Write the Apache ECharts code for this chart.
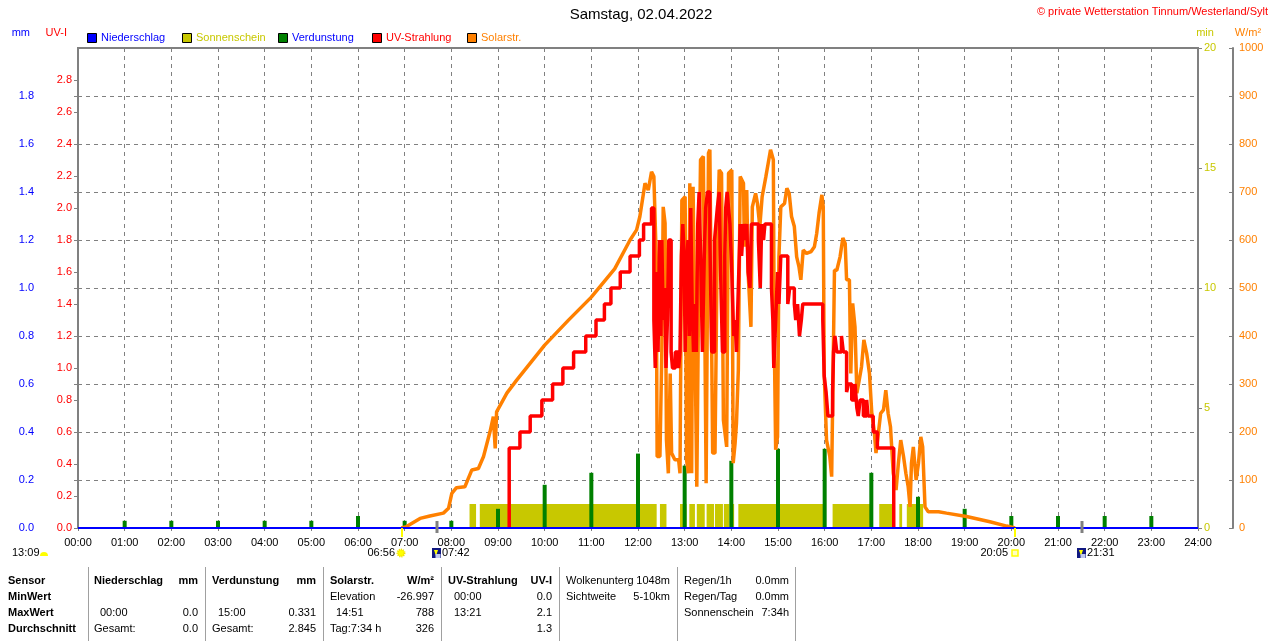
<!DOCTYPE html>
<html>
<head>
<meta charset="utf-8">
<script src="https://cdn.jsdelivr.net/npm/echarts/dist/echarts.min.js"></script>
<style>
  html, body { margin: 0; padding: 0; background: #fff; }
  #chart { width: 1280px; height: 641px; }
</style>
</head>
<body>
<div id="chart"></div>
<script>
const FONT = '"Liberation Sans", Arial, sans-serif';

// Verdunstung (mm) per hour
const evapHours = [1, 2, 3, 4, 5, 6, 7, 8, 9, 10, 11, 12, 13, 14, 15, 16, 17, 18, 19, 20, 21, 22, 23];
const evapValues = [0.03, 0.03, 0.03, 0.03, 0.03, 0.05, 0.03, 0.03, 0.08, 0.18, 0.23, 0.31, 0.26, 0.28, 0.33, 0.33, 0.23, 0.13, 0.08, 0.05, 0.05, 0.05, 0.05];

// Sonnenschein: intervals [start h, end h, minutes]
const sunshine = [
  [8.39, 8.53, 1], [8.61, 12.40, 1], [12.47, 12.61, 1], [12.90, 13.04, 1],
  [13.10, 13.22, 1], [13.26, 13.43, 1], [13.47, 13.63, 1], [13.65, 13.82, 1],
  [13.84, 13.96, 1], [13.99, 14.06, 1], [14.15, 16.00, 1], [16.17, 16.97, 1],
  [17.17, 17.47, 1], [17.60, 17.66, 1], [17.76, 18.11, 1]
];

// Solarstrahlung W/m2 [hour, value]
const solar = [
  [6.93, 0], [7.04, 3], [7.33, 20], [7.54, 25], [7.83, 31], [7.94, 41], [8.01, 72], [8.11, 84],
  [8.29, 86], [8.44, 121], [8.58, 124], [8.69, 149], [8.83, 201], [8.90, 232], [8.94, 166], [8.97, 242],
  [9.19, 281], [9.40, 308], [10.0, 381], [10.5, 432], [11.0, 481], [11.5, 540], [11.83, 600], [11.97, 621],
  [12.04, 649], [12.15, 718], [12.22, 704], [12.29, 742], [12.34, 732], [12.39, 565], [12.41, 149],
  [12.47, 149], [12.51, 364], [12.54, 669], [12.58, 635], [12.61, 183], [12.65, 114], [12.69, 322],
  [12.72, 156], [12.79, 142], [12.87, 142], [12.90, 114], [12.94, 683], [13.01, 690], [13.04, 142],
  [13.08, 114], [13.11, 718], [13.15, 114], [13.18, 711], [13.26, 86], [13.29, 392], [13.34, 767],
  [13.40, 774], [13.46, 93], [13.51, 781], [13.54, 788], [13.60, 156], [13.65, 156], [13.70, 600],
  [13.74, 746], [13.79, 739], [13.83, 225], [13.90, 169], [13.94, 739], [14.01, 746], [14.04, 135],
  [14.08, 176], [14.11, 218], [14.15, 329], [14.19, 732], [14.26, 718], [14.28, 586], [14.33, 704],
  [14.36, 531], [14.42, 419], [14.45, 669], [14.52, 697], [14.56, 676], [14.61, 628], [14.66, 690],
  [14.74, 732], [14.79, 760], [14.84, 788], [14.90, 767], [14.92, 392], [14.95, 163], [14.99, 190],
  [15.02, 565], [15.06, 669], [15.14, 676], [15.19, 708], [15.24, 697], [15.29, 649], [15.35, 628],
  [15.40, 565], [15.45, 544], [15.49, 517], [15.54, 579], [15.61, 572], [15.71, 576], [15.78, 586],
  [15.83, 614], [15.88, 656], [15.94, 694], [15.97, 669], [15.99, 322], [16.04, 183], [16.11, 149],
  [16.15, 107], [16.21, 537], [16.26, 537], [16.33, 565], [16.39, 604], [16.44, 593], [16.47, 517],
  [16.53, 517], [16.56, 322], [16.60, 468], [16.65, 419], [16.69, 281], [16.74, 308], [16.79, 336],
  [16.84, 392], [16.90, 364], [16.96, 322], [17.01, 239], [17.06, 204], [17.10, 156], [17.15, 197],
  [17.20, 239], [17.26, 246], [17.31, 287], [17.36, 239], [17.41, 211], [17.47, 114], [17.53, 79],
  [17.58, 135], [17.63, 183], [17.69, 149], [17.74, 114], [17.79, 86], [17.83, 44], [17.86, 135],
  [17.90, 169], [17.96, 100], [18.01, 135], [18.06, 190], [18.10, 169], [18.15, 44], [18.22, 34],
  [18.44, 34], [18.61, 31], [19.04, 24], [19.54, 13], [19.90, 4], [20.08, 0]
];

// UV-Strahlung UV-I [hour, value] (step)
const uv = [
  [9.24, 0], [9.24, 0.5], [9.47, 0.6], [9.69, 0.7], [9.94, 0.8], [10.17, 0.9], [10.39, 1.0], [10.62, 1.1],
  [10.88, 1.2], [11.10, 1.3], [11.28, 1.4], [11.42, 1.5], [11.62, 1.6], [11.83, 1.7], [12.03, 1.8],
  [12.12, 1.9], [12.29, 2.0], [12.34, 1.3], [12.37, 1.0], [12.40, 1.6], [12.43, 1.1], [12.46, 1.8],
  [12.49, 1.2], [12.51, 1.8], [12.54, 1.3], [12.57, 1.5], [12.60, 1.0], [12.63, 1.3], [12.66, 1.8],
  [12.71, 1.1], [12.74, 1.0], [12.77, 1.0], [12.80, 1.1], [12.87, 1.0], [12.90, 1.1], [12.93, 1.7],
  [12.96, 1.9], [12.99, 1.7], [13.01, 1.1], [13.04, 1.6], [13.07, 1.8], [13.10, 1.2], [13.13, 2.0],
  [13.16, 1.4], [13.19, 1.1], [13.22, 1.4], [13.25, 1.1], [13.28, 1.9], [13.31, 2.1], [13.35, 1.6],
  [13.38, 1.1], [13.42, 1.7], [13.45, 2.0], [13.49, 2.1], [13.54, 1.8], [13.58, 1.1], [13.64, 1.8],
  [13.67, 1.9], [13.70, 2.0], [13.74, 2.1], [13.77, 1.6], [13.81, 1.1], [13.86, 1.7], [13.88, 2.0],
  [13.91, 2.1], [13.94, 2.0], [13.97, 1.9], [14.01, 1.6], [14.05, 1.2], [14.08, 1.3], [14.11, 1.1],
  [14.15, 1.5], [14.19, 1.9], [14.22, 1.7], [14.26, 1.9], [14.29, 1.8], [14.33, 1.9], [14.36, 1.6],
  [14.40, 1.5], [14.43, 1.9], [14.58, 1.8], [14.62, 1.5], [14.65, 1.9], [14.69, 1.8], [14.72, 1.9],
  [14.86, 1.5], [14.89, 1.3], [14.91, 1.0], [14.95, 1.3], [14.99, 1.6], [15.02, 1.4], [15.06, 1.7],
  [15.21, 1.4], [15.25, 1.5], [15.35, 1.4], [15.38, 1.3], [15.42, 1.4], [15.46, 1.2], [15.50, 1.3],
  [15.53, 1.4], [15.96, 1.3], [15.99, 0.95], [16.03, 0.85], [16.07, 0.7], [16.17, 0.85], [16.19, 1.1],
  [16.22, 1.2], [16.26, 1.1], [16.36, 1.2], [16.40, 1.1], [16.47, 0.85], [16.51, 0.9], [16.58, 0.8],
  [16.65, 0.9], [16.69, 0.75], [16.72, 0.7], [16.76, 0.8], [16.83, 0.7], [16.90, 0.8], [16.93, 0.7],
  [17.04, 0.6], [17.13, 0.5], [17.48, 0]
];

// Niederschlag mm
const rain = [[0, 0], [24, 0]];

// Sonne / Mond
const astroTimes = [6.933, 7.7, 20.083, 21.517];
const astroLabels = ['06:56', '07:42', '20:05', '21:31'];
const astroKinds = ['sunrise', 'moonrise', 'sunset', 'moonset'];

const legendItems = [
  { name: 'Niederschlag', color: '#0000FF', text: '#0000FF' },
  { name: 'Sonnenschein', color: '#C8C800', text: '#C8C800' },
  { name: 'Verdunstung', color: '#008000', text: '#0000FF' },
  { name: 'UV-Strahlung', color: '#FF0000', text: '#FF0000' },
  { name: 'Solarstr.', color: '#FF8000', text: '#FF8000' }
];

// summary table: [x, text, align, bold] per row
const tableRows = [
  [[8, 'Sensor', 'left', true], [94, 'Niederschlag', 'left', true], [198, 'mm', 'right', true],
   [212, 'Verdunstung', 'left', true], [316, 'mm', 'right', true], [330, 'Solarstr.', 'left', true],
   [434, 'W/m²', 'right', true], [448, 'UV-Strahlung', 'left', true], [552, 'UV-I', 'right', true],
   [566, 'Wolkenunterg', 'left', false], [670, '1048m', 'right', false],
   [684, 'Regen/1h', 'left', false], [789, '0.0mm', 'right', false]],
  [[8, 'MinWert', 'left', true], [330, 'Elevation', 'left', false], [434, '-26.997', 'right', false],
   [454, '00:00', 'left', false], [552, '0.0', 'right', false], [566, 'Sichtweite', 'left', false],
   [670, '5-10km', 'right', false], [684, 'Regen/Tag', 'left', false], [789, '0.0mm', 'right', false]],
  [[8, 'MaxWert', 'left', true], [100, '00:00', 'left', false], [198, '0.0', 'right', false],
   [218, '15:00', 'left', false], [316, '0.331', 'right', false], [336, '14:51', 'left', false],
   [434, '788', 'right', false], [454, '13:21', 'left', false], [552, '2.1', 'right', false],
   [684, 'Sonnenschein', 'left', false], [789, '7:34h', 'right', false]],
  [[8, 'Durchschnitt', 'left', true], [94, 'Gesamt:', 'left', false], [198, '0.0', 'right', false],
   [212, 'Gesamt:', 'left', false], [316, '2.845', 'right', false], [330, 'Tag:7:34 h', 'left', false],
   [434, '326', 'right', false], [552, '1.3', 'right', false]]
];
const tableRowY = [581, 597, 613, 629];
const tableSeparators = [88.5, 205.5, 323.5, 441.5, 559.5, 677.5, 795.5];

const graphics = [];
function txt(x, y, s, color, opts) {
  opts = opts || {};
  graphics.push({
    type: 'text', x: x, y: y, silent: true,
    style: {
      text: s, fill: color, font: (opts.bold ? 'bold ' : '') + (opts.size || 11) + 'px ' + FONT,
      textAlign: opts.align || 'left', textVerticalAlign: 'middle'
    }
  });
}

txt(1268, 12, '© private Wetterstation Tinnum/Westerland/Sylt', '#FF0000', { align: 'right' });
txt(641, 15, 'Samstag, 02.04.2022', '#000', { align: 'center', size: 15 });
txt(30, 33, 'mm', '#0000FF', { align: 'right' });
txt(67, 33, 'UV-I', '#FF0000', { align: 'right' });
txt(1205, 33, 'min', '#C8C800', { align: 'center' });
txt(1248, 33, 'W/m²', '#FF8000', { align: 'center' });

const legendX = [87, 182, 278, 372, 467];
legendItems.forEach((it, i) => {
  graphics.push({
    type: 'rect', silent: true,
    shape: { x: legendX[i] + 0.5, y: 33.5, width: 9, height: 9 },
    style: { fill: it.color, stroke: '#000', lineWidth: 1 }
  });
  txt(legendX[i] + 14, 38, it.name, it.text);
});

txt(12, 553, '13:09', '#000');
graphics.push({
  type: 'sector', silent: true,
  shape: { cx: 44, cy: 556, r: 4, startAngle: Math.PI, endAngle: 2 * Math.PI },
  style: { fill: '#FFFF00' }
});

tableRows.forEach((row, r) => {
  row.forEach(c => txt(c[0], tableRowY[r], c[1], '#000', { align: c[2], bold: c[3] }));
});
tableSeparators.forEach(x => {
  graphics.push({
    type: 'line', silent: true,
    shape: { x1: x, y1: 567, x2: x, y2: 641 },
    style: { stroke: '#A0A0A0', lineWidth: 1 }
  });
});

function renderSunshine(params, api) {
  const p0 = api.coord([api.value(0), 0]);
  const p1 = api.coord([api.value(1), api.value(2)]);
  return {
    type: 'rect',
    shape: { x: p0[0], y: p1[1], width: p1[0] - p0[0], height: p0[1] - p1[1] },
    style: { fill: '#C8C800' }
  };
}

function renderAstro(params, api) {
  const p = api.coord([api.value(0), 0]);
  const x = Math.round(p[0]);
  const y = p[1];
  const kind = astroKinds[params.dataIndex];
  const label = astroLabels[params.dataIndex];
  const isSun = kind.indexOf('sun') === 0;
  const kids = [];
  kids.push({
    type: 'line',
    shape: isSun ? { x1: x, y1: y, x2: x, y2: y + 9 } : { x1: x, y1: y - 7, x2: x, y2: y + 5 },
    style: { stroke: isSun ? '#FFFF00' : '#808080', lineWidth: isSun ? 2 : 3 }
  });
  const ty = y + 25;
  const tstyle = (tx, align) => ({
    type: 'text',
    style: { x: tx, y: ty, text: label, fill: '#000', font: '11px ' + FONT, textAlign: align, textVerticalAlign: 'middle' }
  });
  if (kind === 'sunrise') {
    kids.push({ type: 'circle', shape: { cx: x - 1, cy: ty, r: 3.5 }, style: { fill: '#FFFF00', stroke: '#F0E000', lineWidth: 2, lineDash: [1, 1] } });
    kids.push(tstyle(x - 7, 'right'));
  } else if (kind === 'sunset') {
    kids.push({ type: 'rect', shape: { x: x - 3, y: ty - 3, width: 6, height: 6 }, style: { fill: '#FFFFC0', stroke: '#FFFF00', lineWidth: 1.5 } });
    kids.push(tstyle(x - 7, 'right'));
  } else {
    kids.push({ type: 'rect', shape: { x: x - 5, y: ty - 5, width: 9, height: 10 }, style: { fill: '#101880' } });
    kids.push({ type: 'polygon', shape: { points: [[x - 3, ty - 3], [x + 1, ty - 3], [x - 1, ty + 3]] }, style: { fill: '#FFFF00' } });
    kids.push({ type: 'rect', shape: { x: x - 1.5, y: ty + 1, width: 5, height: 4 }, style: { fill: '#C0C8F0' } });
    kids.push(tstyle(x + 5, 'left'));
  }
  return { type: 'group', children: kids };
}

const chart = echarts.init(document.getElementById('chart'));
const axisFont = { fontSize: 11, fontFamily: FONT };

const option = {
  animation: false,
  backgroundColor: '#fff',
  grid: { left: 78, right: 82, top: 48, bottom: 113, show: true, borderColor: '#808080', borderWidth: 2 },
  xAxis: {
    type: 'value', min: 0, max: 24, interval: 1,
    axisLine: { show: false },
    axisTick: { show: true, length: 3, lineStyle: { color: '#808080' } },
    axisLabel: Object.assign({ color: '#000', margin: 9, formatter: v => (v < 10 ? '0' : '') + v + ':00' }, axisFont),
    splitLine: { show: true, lineStyle: { color: '#808080', type: [4, 4], width: 1 } }
  },
  yAxis: [
    {
      type: 'value', position: 'left', offset: 38, min: 0, max: 2, interval: 0.2,
      axisLine: { show: true, lineStyle: { color: '#808080', width: 2 } },
      axisTick: { show: true, length: 4, lineStyle: { color: '#808080' } },
      axisLabel: Object.assign({ color: '#0000FF', margin: 6, showMaxLabel: false, formatter: v => v.toFixed(1) }, axisFont),
      splitLine: { show: true, lineStyle: { color: '#808080', type: [4, 4], width: 1 } }
    },
    {
      type: 'value', position: 'left', offset: 0, min: 0, max: 3, interval: 0.2,
      axisLine: { show: false },
      axisTick: { show: true, length: 4, lineStyle: { color: '#808080' } },
      axisLabel: Object.assign({ color: '#FF0000', margin: 6, showMaxLabel: false, formatter: v => v.toFixed(1) }, axisFont),
      splitLine: { show: false }
    },
    {
      type: 'value', position: 'right', offset: 0, min: 0, max: 20, interval: 5,
      axisLine: { show: false },
      axisTick: { show: true, length: 4, lineStyle: { color: '#808080' } },
      axisLabel: Object.assign({ color: '#C8C800', margin: 6, formatter: v => String(v) }, axisFont),
      splitLine: { show: false }
    },
    {
      type: 'value', position: 'right', offset: 35, min: 0, max: 1000, interval: 100,
      axisLine: { show: true, lineStyle: { color: '#808080', width: 2 } },
      axisTick: { show: true, length: 4, inside: true, lineStyle: { color: '#808080' } },
      axisLabel: Object.assign({ color: '#FF8000', margin: 6, formatter: v => String(v) }, axisFont),
      splitLine: { show: false }
    }
  ],
  series: [
    {
      name: 'Sonnenschein', type: 'custom', yAxisIndex: 2, z: 1,
      renderItem: renderSunshine, encode: { x: [0, 1], y: 2 }, data: sunshine
    },
    {
      name: 'Verdunstung', type: 'bar', yAxisIndex: 0, z: 2, barWidth: 4,
      itemStyle: { color: '#008000' },
      data: evapHours.map((h, i) => [h, evapValues[i]])
    },
    {
      name: 'Solarstr.', type: 'line', yAxisIndex: 3, z: 3, showSymbol: false,
      lineStyle: { color: '#FF8000', width: 3.5 }, data: solar
    },
    {
      name: 'UV-Strahlung', type: 'line', yAxisIndex: 1, z: 4, showSymbol: false, step: 'end',
      lineStyle: { color: '#FF0000', width: 3.5 }, data: uv
    },
    {
      name: 'Niederschlag', type: 'line', yAxisIndex: 0, z: 5, showSymbol: false,
      lineStyle: { color: '#0000FF', width: 2 }, data: rain
    },
    {
      name: 'Astro', type: 'custom', yAxisIndex: 0, z: 6, clip: false,
      renderItem: renderAstro, encode: { x: 0, y: 1 },
      data: astroTimes.map(t => [t, 0])
    }
  ],
  graphic: graphics
};

chart.setOption(option);
</script>
</body>
</html>
